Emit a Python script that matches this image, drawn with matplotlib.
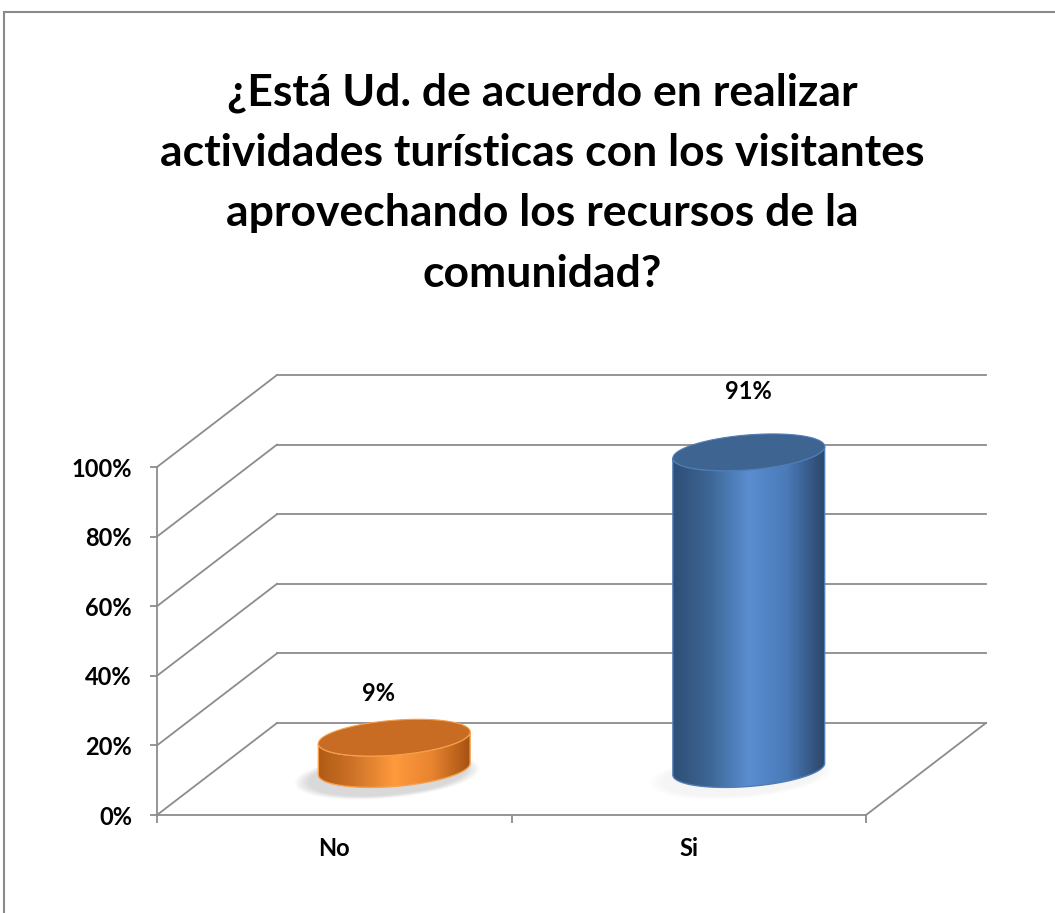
import numpy as np
import matplotlib
matplotlib.use("Agg")
import matplotlib.pyplot as plt
from matplotlib.patches import Polygon, Rectangle
from matplotlib.colors import LinearSegmentedColormap

# ---- data ----
categories = ["No", "Si"]
values = [9, 91]
value_labels = ["9%", "91%"]
yticks = [0, 20, 40, 60, 80, 100]
ytick_labels = ["0%", "20%", "40%", "60%", "80%", "100%"]
title = "¿Está Ud. de acuerdo en realizar\nactividades turísticas con los visitantes\naprovechando los recursos de la\ncomunidad?"

# ---- style ----
W, H = 1055, 913
FONT = "Lato"
GRID = "#8C8C8C"
side_colors = [
    ["#B05A14", "#D0752A", "#FF9A3C", "#E88430", "#A65212"],
    ["#2E4E76", "#3E6796", "#5A8ED1", "#4A7AB8", "#2B466A"],
]
top_colors = ["#C76C22", "#3E6491"]
edge_colors = ["#F5A04E", "#4F7DB5"]
shadow_alpha = [0.03, 0.008]
label_dx = [-0.045, 0.0]
label_dy = [12.6, 17.4]
LBL = 17

fig = plt.figure(figsize=(W / 100, H / 100), dpi=100)
fig.patch.set_facecolor("white")

# outer border
fig.patches.append(Rectangle((4 / W, -0.02), 1.1, (H - 12) / H + 0.02,
                             transform=fig.transFigure, fill=False,
                             edgecolor="#8A8A8A", linewidth=1.5))

# axes: front plane x 0..2 (px 157..866), y 0..100 (px 815..467)
px_per_pct = (815 - 467) / 100.0
YMAX = 135
ax = fig.add_axes([157 / W, (H - 815) / H, (866 - 157) / W, YMAX * px_per_pct / H])
ax.set_xlim(0, 2)
ax.set_ylim(0, YMAX)
ax.patch.set_alpha(0)

DX = 120 / 354.5
DY = 92 / px_per_pct

lw = 1.3
# walls / gridlines
for v in yticks:
    ax.plot([0, DX], [v, v + DY], color=GRID, lw=lw, clip_on=False, zorder=1)
    ax.plot([DX, 2 + DX], [v + DY, v + DY], color=GRID, lw=lw, clip_on=False, zorder=1)
# floor right edge
ax.plot([2, 2 + DX], [0, DY], color=GRID, lw=lw, clip_on=False, zorder=1)

for s in ["top", "right"]:
    ax.spines[s].set_visible(False)
for s in ["left", "bottom"]:
    ax.spines[s].set_color(GRID)
    ax.spines[s].set_linewidth(lw)
ax.spines["left"].set_bounds(0, 100)

ax.set_yticks(yticks)
ax.set_yticklabels(ytick_labels, fontsize=LBL, fontweight="bold", family=FONT)
ax.set_xticks([0, 1, 2])
ax.set_xticklabels([])
ax.set_xticks([0.5, 1.5], minor=True)
ax.set_xticklabels(categories, minor=True, fontsize=LBL, fontweight="bold", family=FONT)
ax.tick_params(axis="y", length=5, width=lw, color=GRID, pad=13)
ax.tick_params(axis="x", which="major", length=6, width=lw, color=GRID)
ax.tick_params(axis="x", which="minor", length=0, pad=15.5)

# cylinders
rx = 72 / 354.5
f = 0.2


def pts(cx, level, th):
    x = cx + rx * np.cos(th) + f * np.sin(th) * DX
    y = level + 0.5 * DY + f * np.sin(th) * DY
    return x, y


thR = np.arctan2(f * DX, rx)
thL = thR - np.pi
for i, (cat, val) in enumerate(zip(categories, values)):
    cx = 0.5 + i + 0.5 * DX
    # soft shadow
    for k in range(10):
        sc = 1.22 - k * 0.02
        th = np.linspace(0, 2 * np.pi, 200)
        sx = cx - 0.02 + (rx * np.cos(th) + f * np.sin(th) * DX) * sc
        sy = 0.5 * DY - 2.0 + f * np.sin(th) * DY * sc * 1.05
        ax.add_patch(Polygon(np.c_[sx, sy], closed=True, facecolor="#808080",
                             edgecolor="none", alpha=shadow_alpha[i], zorder=2))
    # side silhouette
    tb = np.linspace(thR, thL, 120)
    bx, by = pts(cx, 0, tb)
    tt = np.linspace(thL, thR, 120)
    tx, ty = pts(cx, val, tt)
    side = Polygon(np.r_[np.c_[bx, by], np.c_[tx, ty]], closed=True,
                   facecolor="none", edgecolor=edge_colors[i], lw=1.0, zorder=4)
    ax.add_patch(side)
    clip = Polygon(np.r_[np.c_[bx, by], np.c_[tx, ty]], closed=True,
                   facecolor="none", edgecolor="none", transform=ax.transData)
    ax.add_patch(clip)
    cmap = LinearSegmentedColormap.from_list("c%d" % i, side_colors[i])
    grad = np.linspace(0, 1, 256)[None, :]
    xl, xr = bx.min(), bx.max()
    im = ax.imshow(grad, cmap=cmap, aspect="auto", origin="lower",
                   extent=[xl, xr, by.min() - 1, ty.max() + 1], zorder=3,
                   interpolation="bilinear")
    im.set_clip_path(clip)
    # top ellipse
    ta = np.linspace(0, 2 * np.pi, 240)
    ex, ey = pts(cx, val, ta)
    ax.add_patch(Polygon(np.c_[ex, ey], closed=True, facecolor=top_colors[i],
                         edgecolor=edge_colors[i], lw=0.8, zorder=5))
    ax.text(cx + label_dx[i], val + 0.5 * DY + label_dy[i], value_labels[i],
            ha="center", va="center", fontsize=LBL, fontweight="bold",
            family=FONT, zorder=6)

ax.set_xlim(0, 2)
ax.set_ylim(0, YMAX)

fig.text(542 / W, 1 - 183 / H, title, ha="center", va="center",
         fontsize=32, fontweight="bold", family=FONT, linespacing=1.62)

fig.savefig("out.png", dpi=100)
